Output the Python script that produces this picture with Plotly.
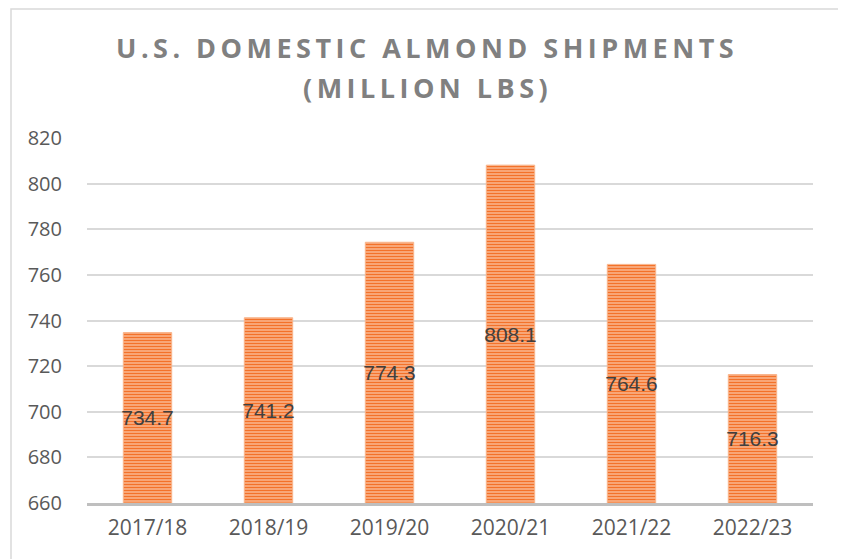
import plotly.graph_objects as go

seasons = ["2017/18", "2018/19", "2019/20", "2020/21", "2021/22", "2022/23"]
shipments = [734.7, 741.2, 774.3, 808.1, 764.6, 716.3]
y_ticks = [660, 680, 700, 720, 740, 760, 780, 800, 820]
axis_base = 660
title_line1 = "U.S. DOMESTIC ALMOND SHIPMENTS"
title_line2 = "(MILLION LBS)"

def spaced(s, sep="\u2009"):
    return sep.join(list(s))

# page body has an 8px margin: compensate
OFF = 8
W, H = 846 - OFF, 559 - OFF
L, R, T, B = 87 - OFF, 33, 138 - OFF, 56
pw, ph = W - L - R, H - T - B

def px_to_paper_x(x):
    return (x - OFF - L) / pw

def px_to_paper_y(y):
    return (H - B - (y - OFF)) / ph

fig = go.Figure()
fig.add_trace(go.Bar(
    x=seasons,
    y=[v - axis_base for v in shipments],
    base=axis_base,
    width=0.4,
    marker=dict(
        color="#f3722a",
        line=dict(color="#f9b48a", width=1),
        pattern=dict(shape="-", size=3, solidity=0.65,
                     fgcolor="#f3722a", bgcolor="#fdd6bd", fillmode="replace"),
    ),
    text=[f"{v:.1f}" for v in shipments],
    textposition="inside",
    insidetextanchor="middle",
    constraintext="none",
    textangle=0,
    textfont=dict(family="Liberation Sans, Arial", size=21, color="#404040"),
    hoverinfo="skip",
))

fig.update_layout(
    width=W, height=H,
    margin=dict(l=L, r=R, t=T, b=B),
    paper_bgcolor="white",
    plot_bgcolor="white",
    showlegend=False,
    xaxis=dict(
        type="category",
        showgrid=False,
        showline=True, linecolor="#bfbfbf", linewidth=3,
        ticks="",
        tickfont=dict(family="Open Sans", size=21, color="#595959"),
        ticklabelstandoff=4,
    ),
    yaxis=dict(
        range=[660, 820],
        tickvals=y_ticks,
        showgrid=True, gridcolor="#d9d9d9", gridwidth=1.5,
        zeroline=False,
        showline=False,
        ticks="",
        tickfont=dict(family="Open Sans", size=20, color="#595959"),
        ticklabelstandoff=24,
    ),
    annotations=[
        dict(text=spaced(title_line1), xref="paper", yref="paper",
             x=px_to_paper_x(425), y=px_to_paper_y(48), xanchor="center", yanchor="middle",
             showarrow=False,
             font=dict(family="Open Sans", size=27, color="#808080", weight="bold")),
        dict(text=spaced(title_line2), xref="paper", yref="paper",
             x=px_to_paper_x(425), y=px_to_paper_y(88), xanchor="center", yanchor="middle",
             showarrow=False,
             font=dict(family="Open Sans", size=27, color="#808080", weight="bold")),
    ],
    shapes=[dict(
        type="rect", xref="paper", yref="paper",
        x0=px_to_paper_x(11), x1=px_to_paper_x(842),
        y0=px_to_paper_y(575), y1=px_to_paper_y(9),
        line=dict(color="#d9d9d9", width=1.5), fillcolor="rgba(0,0,0,0)",
        layer="below",
    )],
)

fig.write_html("out.html")
